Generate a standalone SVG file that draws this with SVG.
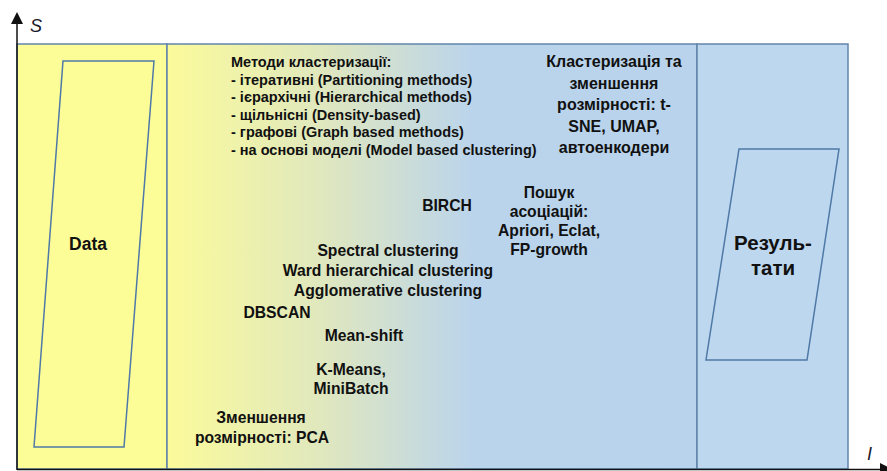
<svg xmlns="http://www.w3.org/2000/svg" width="887" height="471" viewBox="0 0 887 471">
<defs>
<linearGradient id="mid" x1="167" y1="0" x2="697" y2="0" gradientUnits="userSpaceOnUse">
<stop offset="0" stop-color="#fbfb9a"/>
<stop offset="0.3" stop-color="#dfe7bf"/>
<stop offset="0.58" stop-color="#bad4ec"/>
<stop offset="1" stop-color="#b9d3ec"/>
</linearGradient>
<style>
.t{font-family:"Liberation Sans",Arial,sans-serif;font-weight:bold;fill:#111;}
.m{text-anchor:middle;}
.b{font-size:15.7px;}
.ax{font-family:"Liberation Sans",Arial,sans-serif;font-style:italic;fill:#1a1a2a;font-size:18px;}
.col{stroke:#6185ab;stroke-width:1.5;}
.para{stroke:#4f79a6;stroke-width:1.5;}
</style>
</defs>
<g id="panels">
<rect x="17" y="44" width="150" height="425" fill="#fdfd98" class="col"/>
<rect x="167" y="44" width="530" height="425" fill="url(#mid)" class="col"/>
<rect x="697" y="44" width="151" height="425" fill="#bdd7ee" class="col"/>
</g>
<g id="axes">
<line x1="17" y1="470" x2="17" y2="22" stroke="#111" stroke-width="1.5"/>
<polygon points="17,12 11,24 23,24" fill="#111"/>
<line x1="17" y1="469.5" x2="882" y2="469.5" stroke="#111" stroke-width="1.5"/>
<polygon points="880,463 880,476 893,469.5" fill="#111"/>
<text class="ax" x="30" y="32">S</text>
<text class="ax" x="867" y="460">I</text>
</g>
<g id="data">
<polygon points="63,61 154,61 124,447 34,447" fill="#fdfd98" class="para"/>
<text class="t m" x="88" y="250" font-size="17.5">Data</text>
</g>
<g id="results">
<polygon points="739,149 839,149 807,360 706,360" fill="#bdd7ee" class="para"/>
<text class="t m" x="773" y="250" font-size="20.5">Резуль-</text>
<text class="t m" x="773" y="275" font-size="20.5">тати</text>
</g>
<g id="methods">
<text class="t" x="231" y="67" font-size="14.5">Методи кластеризації:</text>
<text class="t" x="231" y="85" font-size="14.5">- ітеративні (Partitioning methods)</text>
<text class="t" x="231" y="102" font-size="14.5">- ієрархічні (Hierarchical methods)</text>
<text class="t" x="231" y="120" font-size="14.5">- щільнісні (Density-based)</text>
<text class="t" x="231" y="137" font-size="14.5">- графові (Graph based methods)</text>
<text class="t" x="231" y="155" font-size="14.5">- на основі моделі (Model based clustering)</text>
</g>
<g id="tsne">
<text class="t m" x="614" y="67" font-size="16">Кластеризація  та</text>
<text class="t m" x="614" y="89" font-size="16">зменшення</text>
<text class="t m" x="614" y="110" font-size="16">розмірності:  t-</text>
<text class="t m" x="614" y="132" font-size="16">SNE, UMAP,</text>
<text class="t m" x="614" y="153" font-size="16">автоенкодери</text>
</g>
<g id="birch"><text class="t m b" x="447" y="211">BIRCH</text></g>
<g id="assoc">
<text class="t m b" x="549" y="198">Пошук</text>
<text class="t m b" x="549" y="217">асоціацій:</text>
<text class="t m b" x="549" y="236">Apriori, Eclat,</text>
<text class="t m b" x="549" y="255">FP-growth</text>
</g>
<g id="hier">
<text class="t m b" x="388" y="256">Spectral clustering</text>
<text class="t m b" x="388" y="276">Ward hierarchical clustering</text>
<text class="t m b" x="388" y="296">Agglomerative clustering</text>
</g>
<g id="dbscan"><text class="t m b" x="277" y="318">DBSCAN</text></g>
<g id="meanshift"><text class="t m b" x="364" y="341">Mean-shift</text></g>
<g id="kmeans">
<text class="t m b" x="351" y="375">K-Means,</text>
<text class="t m b" x="351" y="394">MiniBatch</text>
</g>
<g id="pca">
<text class="t m b" x="261" y="423">Зменшення</text>
<text class="t m b" x="262" y="443">розмірності:  PCA</text>
</g>
<g id="connectors"></g>
</svg>
